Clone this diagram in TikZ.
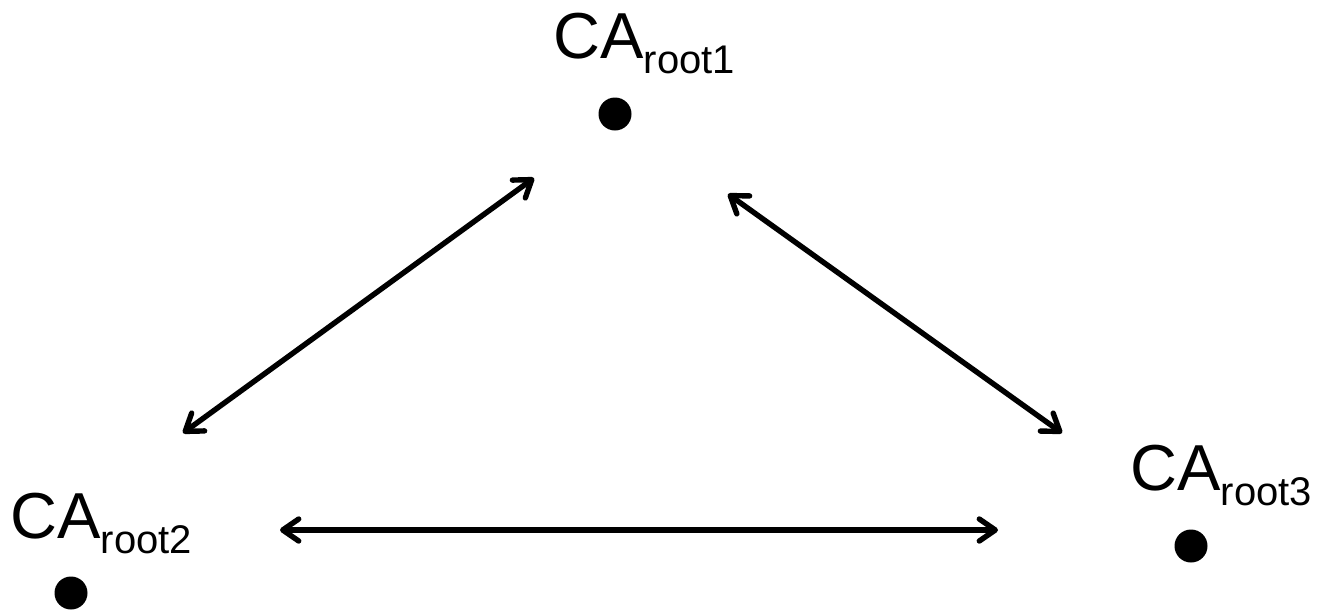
\documentclass[tikz,border=0pt]{standalone}
\usepackage{fontspec}
\setmainfont{Liberation Sans}
\usetikzlibrary{arrows.meta}
\newcommand\casub[1]{\raisebox{-7.5pt}{\fontsize{20}{22}\selectfont #1}}
\begin{document}
\begin{tikzpicture}[x=0.5pt,y=-0.5pt,
  dot/.style={circle,fill=black,inner sep=0pt,minimum size=16.5pt},
  calabel/.style={anchor=base west,inner sep=0pt,font=\fontsize{32.5}{36}\selectfont},
  barb/.tip={Straight Barb[length=8pt,width=11pt,line cap=round,line join=round]},
  link/.style={line width=2.7pt,line cap=round,line join=round,barb-barb}]
\useasboundingbox (0,0) rectangle (1321,611);

% the three root CAs
\node[calabel] (l1) at (553,58) {CA\casub{root1}};
\node[dot] (d1) at (615,114) {};
\node[calabel] (l2) at (10,538) {CA\casub{root2}};
\node[dot] (d2) at (71,593) {};
\node[calabel] (l3) at (1130,490) {CA\casub{root3}};
\node[dot] (d3) at (1191,546) {};

% ends of the trust links
\coordinate (p12a) at (183,433);
\coordinate (p12b) at (534,178);
\coordinate (p13a) at (728,194);
\coordinate (p13b) at (1062,433);
\coordinate (p23a) at (280,530);
\coordinate (p23b) at (998,530);

\draw[link] (p12a) -- (p12b);
\draw[link] (p13a) -- (p13b);
\draw[link] (p23a) -- (p23b);
\end{tikzpicture}
\end{document}
